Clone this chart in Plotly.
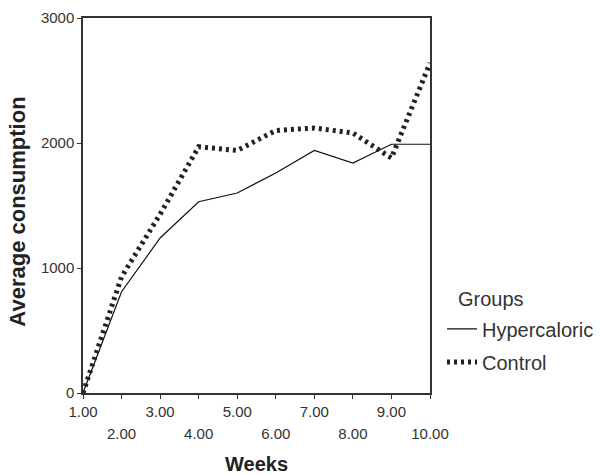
import plotly.graph_objects as go

weeks = [1, 2, 3, 4, 5, 6, 7, 8, 9, 10]
hypercaloric = [0, 810, 1240, 1530, 1600, 1760, 1940, 1840, 1990, 1990]
control = [0, 930, 1430, 1970, 1940, 2100, 2120, 2080, 1880, 2640]

odd_ticks = [1, 3, 5, 7, 9]
odd_labels = ["1.00", "3.00", "5.00", "7.00", "9.00"]
even_ticks = [2, 4, 6, 8, 10]
even_labels = ["2.00", "4.00", "6.00", "8.00", "10.00"]
y_ticks = [0, 1000, 2000, 3000]
y_labels = ["0", "1000", "2000", "3000"]

FONT = "Liberation Sans, Arial, sans-serif"
TXT = "#333333"
AX = "#333333"

fig = go.Figure()
fig.add_trace(go.Scatter(
    x=weeks, y=hypercaloric, mode="lines", name="Hypercaloric", legendgroup="a",
    line=dict(color="#111111", width=1.2), cliponaxis=False,
))
fig.add_trace(go.Scatter(
    x=weeks, y=control, mode="lines", name="Control", legendgroup="b",
    line=dict(color="#222222", width=5, dash="3px,4px"), cliponaxis=False,
))
fig.add_trace(go.Scatter(
    x=weeks, y=hypercaloric, xaxis="x2", mode="lines", showlegend=False,
    hoverinfo="skip", line=dict(width=0), opacity=0,
))

fig.update_layout(
    width=606, height=474,
    margin=dict(l=83, r=176, t=18, b=81),
    paper_bgcolor="white", plot_bgcolor="white",
    font=dict(family=FONT, color=TXT, size=15),
    showlegend=True,
    legend=dict(
        xref="container", x=0.7294, xanchor="left", y=0.223, yanchor="top",
        font=dict(size=20, color=TXT), bgcolor="rgba(0,0,0,0)",
        itemwidth=30, tracegroupgap=4,
    ),
    xaxis=dict(
        range=[1, 10], tickvals=weeks, automargin=False,
        ticktext=[odd_labels[i // 2] if i % 2 == 0 else "" for i in range(10)],
        ticks="outside", ticklen=4, tickwidth=1.2, tickcolor=AX,
        showline=True, linecolor=AX, linewidth=1.5, mirror=True,
        showgrid=False, zeroline=False,
        tickfont=dict(size=15, color=TXT),
    ),
    xaxis2=dict(
        range=[1, 10], overlaying="x", anchor="y", side="bottom", automargin=False,
        tickvals=even_ticks, ticktext=even_labels,
        ticks="", showline=False, showgrid=False, zeroline=False,
        tickfont=dict(size=15, color=TXT), ticklabelstandoff=30,
    ),
    yaxis=dict(
        range=[0, 3000], tickvals=y_ticks, ticktext=y_labels, automargin=False,
        ticks="outside", ticklen=4, tickwidth=1.2, tickcolor=AX,
        showline=True, linecolor=AX, linewidth=1.5, mirror=True,
        showgrid=False, zeroline=False,
        tickfont=dict(size=15, color=TXT),
    ),
    annotations=[
        dict(
            text="Groups", xref="paper", yref="paper", x=1.176, y=0.2507,
            xanchor="center", yanchor="middle", showarrow=False,
            font=dict(size=20, color=TXT),
        ),
        dict(
            text="<b>Weeks</b>", xref="paper", yref="paper", x=0.5, y=-0.19,
            xanchor="center", yanchor="middle", showarrow=False,
            font=dict(size=20, color="#222222"),
        ),
        dict(
            text="<b>Average consumption</b>", xref="paper", yref="paper",
            x=-0.188, y=0.483, textangle=-90, borderpad=0,
            xanchor="center", yanchor="middle", showarrow=False,
            font=dict(size=22, color="#222222"),
        ),
    ],
)

fig.write_html(
    "out.html",
    config={"displayModeBar": False},
    post_script="document.body.style.margin='0';document.body.style.padding='0';",
)
